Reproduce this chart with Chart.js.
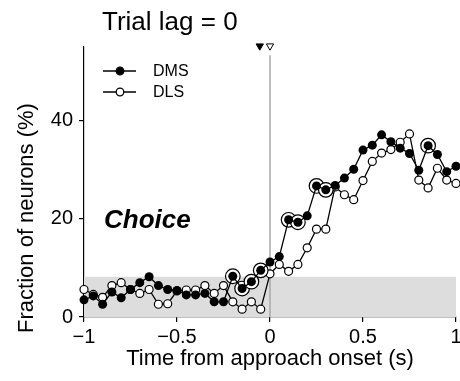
<!DOCTYPE html>
<html>
<head>
<meta charset="utf-8">
<script src="https://cdn.jsdelivr.net/npm/chart.js@4"></script>
<style>
  html, body { margin: 0; padding: 0; background: #fff; }
  #wrap { width: 460px; height: 381px; }
</style>
</head>
<body>
<div id="wrap"><canvas id="lagChart" width="460" height="381"></canvas></div>
<script>
// time bins (s)
const times = [-1, -0.95, -0.9, -0.85, -0.8, -0.75, -0.7, -0.65, -0.6, -0.55, -0.5,
  -0.45, -0.4, -0.35, -0.3, -0.25, -0.2, -0.15, -0.1, -0.05, 0,
  0.05, 0.1, 0.15, 0.2, 0.25, 0.3, 0.35, 0.4, 0.45, 0.5,
  0.55, 0.6, 0.65, 0.7, 0.75, 0.8, 0.85, 0.9, 0.95, 1];

// fraction of neurons (%)
const dms = [3.5, 4.3, 2.6, 5.1, 3.9, 5.6, 7.0, 8.2, 6.4, 5.6, 5.4,
  4.5, 4.5, 4.8, 3.1, 3.1, 8.3, 5.8, 7.2, 9.5, 11.2,
  12.3, 19.8, 19.3, 20.6, 26.7, 25.9, 26.8, 28.3, 30.1, 34.0,
  35.0, 37.1, 35.7, 34.4, 33.3, 29.9, 34.9, 33.1, 29.6, 30.7];
const dls = [5.6, 4.6, 4.0, 6.4, 7.0, 5.6, 4.8, 5.6, 2.6, 2.7, 5.3,
  5.5, 5.5, 6.4, 4.8, 6.4, 3.1, 1.6, 3.1, 1.6, 8.8,
  10.7, 9.3, 10.7, 14.1, 17.9, 17.9, 26.5, 24.9, 23.9, 27.8,
  31.7, 33.4, 34.1, 35.6, 37.3, 27.9, 26.3, 30.3, 27.9, 27.2];

// bins where DMS differs significantly from DLS (ringed markers)
const sigTimes = [-0.2, -0.15, -0.1, -0.05, 0.1, 0.15, 0.25, 0.3, 0.85];

// chance level band and onset markers
const chanceLevel = 8.2;
const onsetDMS = -0.055;
const onsetDLS = 0;
const markerLevel = 55.2;
const eventLineTop = 53.3;

const yTicks = [0, 20, 40];
const xTicks = [-1, -0.5, 0, 0.5, 1];

const FONT = '"Liberation Sans", Arial, Helvetica, sans-serif';

const toXY = (ys) => times.map((t, i) => ({ x: t, y: ys[i] }));
const sigPoints = sigTimes.map(t => ({ x: t, y: dms[times.findIndex(v => Math.abs(v - t) < 1e-9)] }));

// keep tick labels from pushing the plot area inwards
const noPadding = () => ({ left: 0, top: 0, right: 0, bottom: 0 });

const annotations = {
  id: 'annotations',
  afterDraw(chart) {
    const ctx = chart.ctx;
    const area = chart.chartArea;
    ctx.save();
    ctx.fillStyle = '#000';

    // title
    ctx.font = '26px ' + FONT;
    ctx.textAlign = 'left';
    ctx.textBaseline = 'alphabetic';
    ctx.fillText('Trial lag = 0', 102, 30);

    // Choice
    ctx.font = 'italic bold 26px ' + FONT;
    ctx.fillText('Choice', 104, 228);

    // axis titles
    ctx.font = '22px ' + FONT;
    ctx.textAlign = 'center';
    ctx.fillText('Time from approach onset (s)', (area.left + area.right) / 2, 365);
    ctx.save();
    ctx.translate(33, (area.top + area.bottom) / 2 + 36);
    ctx.rotate(-Math.PI / 2);
    ctx.fillText('Fraction of neurons (%)', 0, 0);
    ctx.restore();

    // legend
    const rows = [{ label: 'DMS', fill: '#000', y: 71 }, { label: 'DLS', fill: '#fff', y: 92 }];
    ctx.font = '16px ' + FONT;
    ctx.textAlign = 'left';
    ctx.textBaseline = 'middle';
    rows.forEach(r => {
      ctx.strokeStyle = '#000';
      ctx.lineWidth = 1.3;
      ctx.beginPath();
      ctx.moveTo(103, r.y);
      ctx.lineTo(136, r.y);
      ctx.stroke();
      ctx.beginPath();
      ctx.arc(120, r.y, 3.8, 0, Math.PI * 2);
      ctx.fillStyle = r.fill;
      ctx.fill();
      ctx.stroke();
      ctx.fillStyle = '#000';
      ctx.fillText(r.label, 153, r.y + 1);
    });
    ctx.restore();
  }
};

new Chart(document.getElementById('lagChart'), {
  type: 'line',
  data: {
    datasets: [
      {
        label: 'chance',
        data: [{ x: -1, y: chanceLevel }, { x: 1, y: chanceLevel }],
        fill: 'origin',
        backgroundColor: '#dddddd',
        borderWidth: 0,
        pointRadius: 0,
        order: 10
      },
      {
        label: 'event',
        data: [{ x: 0, y: 0 }, { x: 0, y: eventLineTop }],
        borderColor: '#a8a8a8',
        borderWidth: 1.5,
        pointRadius: 0,
        order: 9
      },
      {
        label: 'DLS',
        data: toXY(dls),
        borderColor: '#000',
        borderWidth: 1.3,
        pointRadius: 4,
        pointBorderWidth: 1.2,
        pointBackgroundColor: '#fff',
        pointBorderColor: '#000',
        clip: false,
        order: 5
      },
      {
        label: 'sig',
        data: sigPoints,
        showLine: false,
        pointRadius: 7.3,
        pointBorderWidth: 1.2,
        pointBackgroundColor: '#fff',
        pointBorderColor: '#000',
        clip: false,
        order: 4
      },
      {
        label: 'DMS',
        data: toXY(dms),
        borderColor: '#000',
        borderWidth: 1.3,
        pointRadius: 4.5,
        pointBorderWidth: 0,
        pointBackgroundColor: '#000',
        clip: false,
        order: 3
      },
      {
        label: 'onsetDMS',
        data: [{ x: onsetDMS, y: markerLevel }],
        showLine: false,
        pointStyle: 'triangle',
        rotation: 180,
        pointRadius: 4.2,
        pointBorderWidth: 1,
        pointBackgroundColor: '#000',
        pointBorderColor: '#000',
        clip: false,
        order: 1
      },
      {
        label: 'onsetDLS',
        data: [{ x: onsetDLS, y: markerLevel }],
        showLine: false,
        pointStyle: 'triangle',
        rotation: 180,
        pointRadius: 4.2,
        pointBorderWidth: 1,
        pointBackgroundColor: '#fff',
        pointBorderColor: '#000',
        clip: false,
        order: 1
      }
    ]
  },
  options: {
    responsive: false,
    animation: false,
    events: [],
    layout: { autoPadding: false, padding: { top: 47, right: 4, left: 0, bottom: 0 } },
    plugins: { legend: { display: false }, tooltip: { enabled: false }, title: { display: false } },
    elements: { line: { tension: 0 } },
    scales: {
      x: {
        type: 'linear',
        min: -1,
        max: 1,
        afterFit(scale) {
          scale.height = 64;
          scale.paddingRight = 0;
          scale.paddingLeft = 0;
          scale.getPadding = noPadding;
        },
        afterBuildTicks(scale) { scale.ticks = xTicks.map(v => ({ value: v })); },
        border: { display: true, color: '#000', width: 1.2 },
        grid: { display: true, drawOnChartArea: false, drawTicks: true, tickLength: 5, color: '#000', lineWidth: 1.2 },
        ticks: {
          color: '#000',
          padding: 3,
          maxRotation: 0,
          font: { family: FONT, size: 20 },
          callback: v => (v < 0 ? '\u2212' + Math.abs(v) : String(v))
        }
      },
      y: {
        min: 0,
        max: 55,
        afterFit(scale) {
          scale.width = 84;
          scale.paddingTop = 0;
          scale.paddingBottom = 0;
          scale.getPadding = noPadding;
        },
        afterBuildTicks(scale) { scale.ticks = yTicks.map(v => ({ value: v })); },
        border: { display: true, color: '#000', width: 1.2 },
        grid: { display: true, drawOnChartArea: false, drawTicks: true, tickLength: 5, color: '#000', lineWidth: 1.2 },
        ticks: {
          color: '#000',
          padding: 6,
          font: { family: FONT, size: 20 }
        }
      }
    }
  },
  plugins: [annotations]
});
</script>
</body>
</html>
